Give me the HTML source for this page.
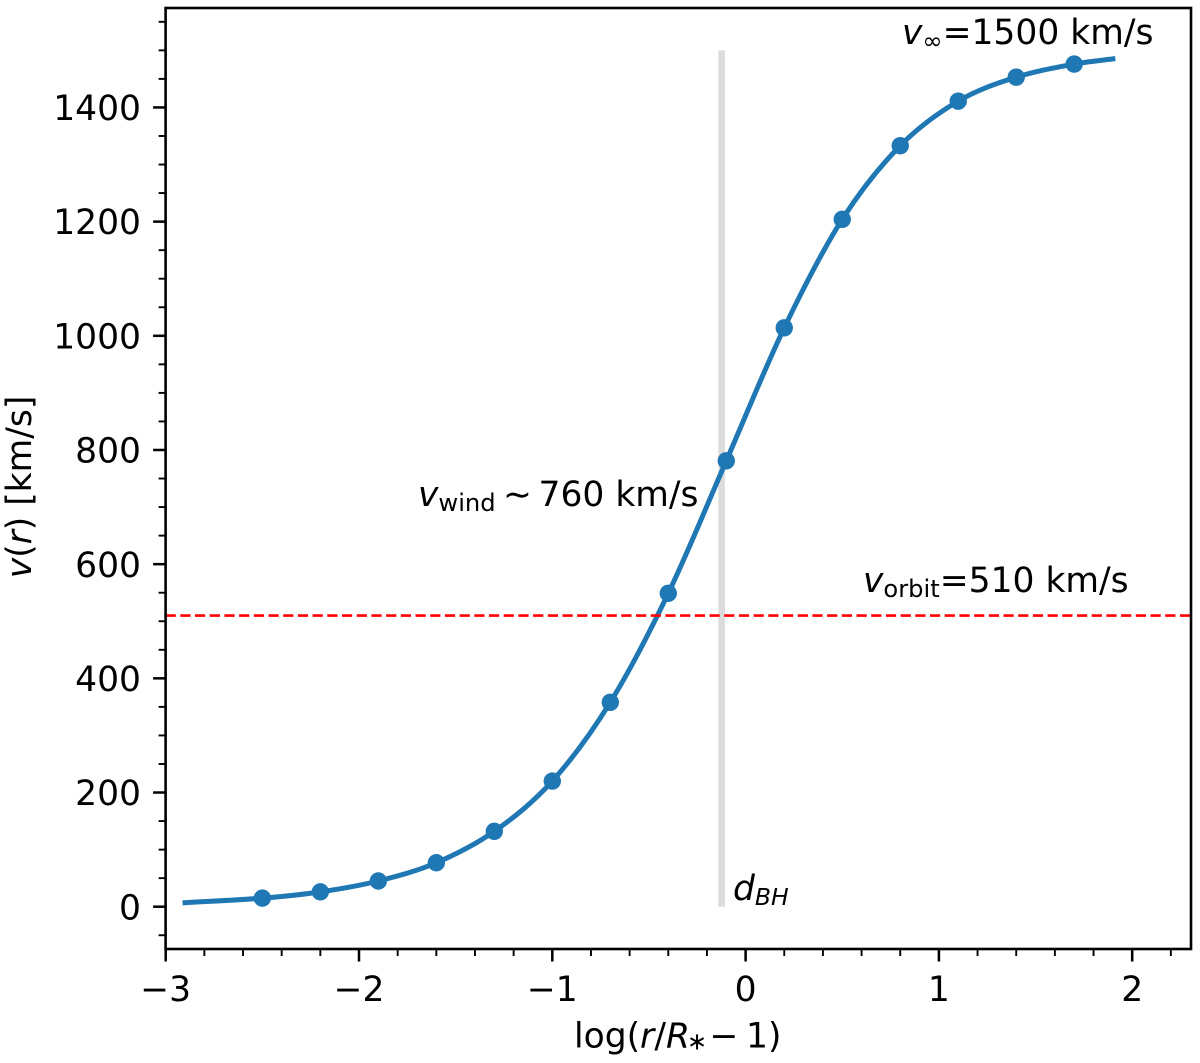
<!DOCTYPE html>
<html>
<head>
<meta charset="utf-8">
<title>Wind velocity profile</title>
<style>
html,body{margin:0;padding:0;background:#fff;width:1200px;height:1063px;overflow:hidden}
svg{display:block}
text{font-family:"DejaVu Sans","Liberation Sans",sans-serif;font-size:34.5px;fill:#000}
.it{font-style:italic}
</style>
</head>
<body>
<svg id="chart" xmlns="http://www.w3.org/2000/svg" width="1200" height="1063" viewBox="0 0 1200 1063">
  <g id="marks"></g>
  <rect x="165.6" y="8" width="1025.4" height="941" fill="none" stroke="#000" stroke-width="2.6"></rect>
  <g id="ticks"></g>
  <text x="574" y="1047.5">log(<tspan class="it" x="640">r</tspan><tspan x="654.4">/</tspan><tspan class="it" x="666">R</tspan><tspan font-size="24.2" x="687" dy="2">∗</tspan><tspan x="709.5" dy="-2">−</tspan><tspan x="746">1</tspan><tspan x="768">)</tspan></text>
  <text transform="translate(31,487) rotate(-90)" text-anchor="middle"><tspan class="it">v</tspan>(<tspan class="it">r</tspan>) [km/s]</text>
  <text x="902" y="44"><tspan class="it">v</tspan><tspan font-size="24.2" dy="5">∞</tspan><tspan dy="-5">=1500 km/s</tspan></text>
  <text x="418" y="506"><tspan class="it">v</tspan><tspan font-size="24.2" dy="5">wind</tspan><tspan x="503" dy="-5">∼</tspan><tspan x="538.5">760 km/s</tspan></text>
  <text x="863" y="592"><tspan class="it">v</tspan><tspan font-size="24.2" dy="5">orbit</tspan><tspan dy="-5">=510 km/s</tspan></text>
  <text x="733" y="900" class="it">d<tspan font-size="23.5" dy="5">BH</tspan></text>
</svg>
<script>
// Data
const markerX = [-2.5, -2.2, -1.9, -1.6, -1.3, -1.0, -0.7, -0.4, -0.1, 0.2, 0.5, 0.8, 1.1, 1.4, 1.7];
const markerV = [15, 26, 45, 77, 132, 220, 358, 549, 781, 1014, 1204, 1333, 1411, 1453, 1476];
const curveX = [-2.9, -2.5, -2.2, -1.9, -1.6, -1.3, -1.0, -0.7, -0.4, -0.1, 0.2, 0.5, 0.8, 1.1, 1.4, 1.7, 1.9];
const curveV = [7, 15, 26, 45, 77, 132, 220, 358, 549, 781, 1014, 1204, 1333, 1411, 1453, 1476, 1485];
const orbitVelocity = 510;
const bhPosition = -0.124;
const bhTop = 1500;
const bhBottom = 0;
const xMajorTicks = [-3, -2, -1, 0, 1, 2];
const xMinorTicks = [-2.8, -2.6, -2.4, -2.2, -1.8, -1.6, -1.4, -1.2, -0.8, -0.6, -0.4, -0.2, 0.2, 0.4, 0.6, 0.8, 1.2, 1.4, 1.6, 1.8, 2.2];
const yMajorTicks = [0, 200, 400, 600, 800, 1000, 1200, 1400];
const yMinorTicks = [-50, 50, 100, 150, 250, 300, 350, 450, 500, 550, 650, 700, 750, 850, 900, 950, 1050, 1100, 1150, 1250, 1300, 1350, 1450, 1500, 1550];

const NS = 'http://www.w3.org/2000/svg';
const plotLeft = 165.6, plotRight = 1191, plotTop = 8, plotBottom = 949;
function xScale(v) { return 745.6 + 193.3 * v; }
function yScale(v) { return 906.7 - 0.5709 * v; }
const marks = document.getElementById('marks');
const ticks = document.getElementById('ticks');

function make(tag, parent, attrs) {
  const el = document.createElementNS(NS, tag);
  for (const k in attrs) el.setAttribute(k, attrs[k]);
  parent.appendChild(el);
  return el;
}

function curvePath(xs, vs) {
  const n = xs.length;
  const slope = [];
  for (let i = 0; i < n; i++) {
    const a = Math.max(i - 1, 0), b = Math.min(i + 1, n - 1);
    slope.push((vs[b] - vs[a]) / (xs[b] - xs[a]));
  }
  let d = 'M' + xScale(xs[0]).toFixed(2) + ' ' + yScale(vs[0]).toFixed(2);
  for (let i = 0; i < n - 1; i++) {
    const h = (xs[i + 1] - xs[i]) / 3;
    d += 'C' + xScale(xs[i] + h).toFixed(2) + ' ' + yScale(vs[i] + slope[i] * h).toFixed(2) +
         ' ' + xScale(xs[i + 1] - h).toFixed(2) + ' ' + yScale(vs[i + 1] - slope[i + 1] * h).toFixed(2) +
         ' ' + xScale(xs[i + 1]).toFixed(2) + ' ' + yScale(vs[i + 1]).toFixed(2);
  }
  return d;
}

const bhBar = make('line', marks, {x1: xScale(bhPosition), x2: xScale(bhPosition), y1: yScale(bhBottom), y2: yScale(bhTop), stroke: '#dcdcdc', 'stroke-width': 6.6});



const curve = make('path', marks, {d: curvePath(curveX, curveV), fill: 'none', stroke: '#1f77b4', 'stroke-width': 5, 'stroke-linecap': 'square'});



markerX.forEach(function (x, i) {
  const dot = make('circle', marks, {cx: xScale(x), cy: yScale(markerV[i]), r: 8.7, fill: '#1f77b4'});
  
  
});

const orbitLine = make('line', marks, {x1: plotLeft, x2: plotRight, y1: yScale(orbitVelocity), y2: yScale(orbitVelocity), stroke: '#ff0000', 'stroke-width': 2.6, 'stroke-dasharray': '10.2 4.5'});



xMajorTicks.forEach(function (v) {
  const t = make('line', ticks, {x1: xScale(v), x2: xScale(v), y1: plotBottom, y2: plotBottom + 12.5, stroke: '#000', 'stroke-width': 2.5});
  
  
  const label = make('text', ticks, {x: xScale(v), y: 1001, 'text-anchor': 'middle'});
  label.textContent = String(v).replace('-', '\u2212');
  
  
});
xMinorTicks.forEach(function (v) {
  const t = make('line', ticks, {x1: xScale(v), x2: xScale(v), y1: plotBottom, y2: plotBottom + 7, stroke: '#000', 'stroke-width': 1.9});
  
  
});
yMajorTicks.forEach(function (v) {
  const t = make('line', ticks, {x1: plotLeft - 12.5, x2: plotLeft, y1: yScale(v), y2: yScale(v), stroke: '#000', 'stroke-width': 2.5});
  
  
  const label = make('text', ticks, {x: 141, y: yScale(v) + 12.6, 'text-anchor': 'end'});
  label.textContent = String(v);
  
  
});
yMinorTicks.forEach(function (v) {
  const t = make('line', ticks, {x1: plotLeft - 7, x2: plotLeft, y1: yScale(v), y2: yScale(v), stroke: '#000', 'stroke-width': 1.9});
  
  
});
</script>
</body>
</html>
